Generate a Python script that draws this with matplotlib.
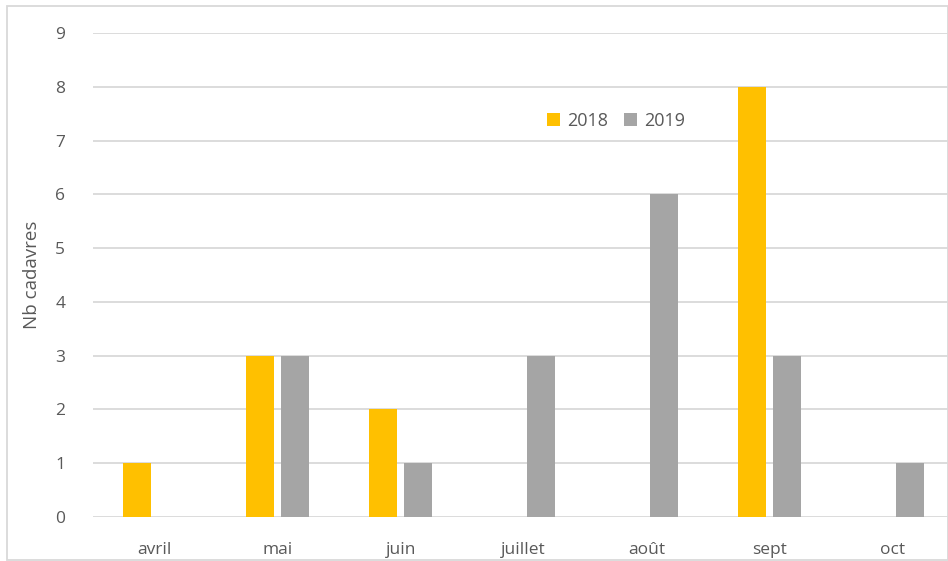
import matplotlib
matplotlib.use("Agg")
import matplotlib.pyplot as plt
from matplotlib.patches import Rectangle
import numpy as np

months = ["avril", "mai", "juin", "juillet", "août", "sept", "oct"]
series_2018 = [1, 3, 2, 0, 0, 8, 0]
series_2019 = [0, 3, 1, 3, 6, 3, 1]
y_ticks = list(range(0, 10))

plt.rcParams['font.family'] = ['Open Sans', 'DejaVu Sans']
txt = '#595959'
grid = '#D9D9D9'

fig = plt.figure(figsize=(9.48, 5.61), dpi=100)
W, H = 948, 561
ax = fig.add_axes([93 / W, (H - 517) / H, (954.5 - 93) / W, (517 - 33) / H])

x = np.arange(len(months))
bw = 0.228
off = 0.142
ax.bar(x - off, series_2018, bw, color='#FFC000', label='2018', zorder=3)
ax.bar(x + off, series_2019, bw, color='#A5A5A5', label='2019', zorder=3)

ax.set_xlim(-0.5, len(months) - 0.5)
ax.set_ylim(0, 9)
ax.set_yticks(y_ticks)
ax.set_yticklabels([str(v) for v in y_ticks], fontsize=12.5, color=txt)
ax.set_xticks(x)
ax.set_xticklabels(months, fontsize=12.5, color=txt)
ax.tick_params(axis='both', length=0)
ax.tick_params(axis='y', pad=20)
ax.tick_params(axis='x', pad=18)
ax.yaxis.grid(True, color=grid, linewidth=1.3, zorder=0)
for s in ax.spines.values():
    s.set_visible(False)
ax.set_ylabel('Nb cadavres', fontsize=13.5, color=txt, labelpad=10)

leg = ax.legend(loc='center', bbox_to_anchor=((616 - 93) / (954.5 - 93), (517 - 121) / 484),
                ncol=2, frameon=False, fontsize=13, handlelength=0.7, handleheight=0.7,
                columnspacing=0.9, handletextpad=0.4)
for t in leg.get_texts():
    t.set_color(txt)

fig.patches.append(Rectangle((7 / W, 0.002), (W - 7) / W, (H - 6) / H - 0.002,
                             transform=fig.transFigure, fill=False, edgecolor=grid, linewidth=1.3))

fig.savefig('out.png', dpi=100)
